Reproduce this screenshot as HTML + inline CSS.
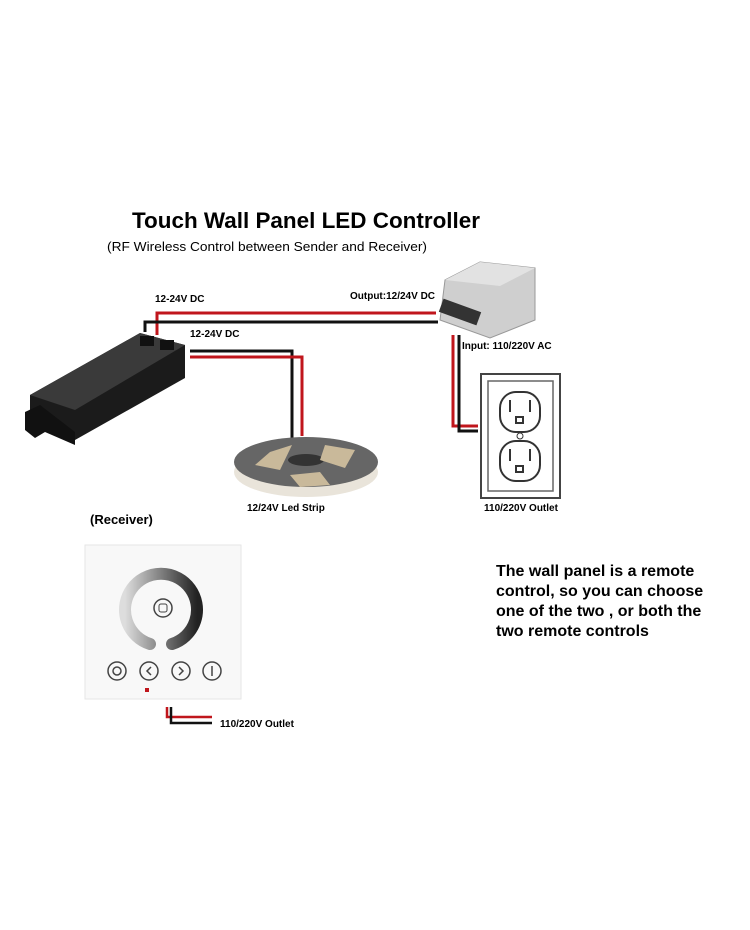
<!DOCTYPE html>
<html><head><meta charset="utf-8"><style>html,body{margin:0;padding:0;background:#fff}svg{display:block}</style></head>
<body>
<svg width="750" height="930" viewBox="0 0 750 930" xmlns="http://www.w3.org/2000/svg" font-family="Liberation Sans, sans-serif">
<rect width="750" height="930" fill="#fff"/>
<text x="132" y="228" font-size="22" font-weight="bold" textLength="348" lengthAdjust="spacingAndGlyphs">Touch Wall Panel LED Controller</text>
<text x="107" y="251" font-size="13" textLength="320" lengthAdjust="spacingAndGlyphs">(RF Wireless Control between Sender and Receiver)</text>

<polyline points="157,335 157,313 436,313" fill="none" stroke="#c0161c" stroke-width="3"/>
<polyline points="145,332 145,322 438,322" fill="none" stroke="#111" stroke-width="3"/>
<polyline points="190,351 292,351 292,439" fill="none" stroke="#111" stroke-width="3"/>
<polyline points="190,357 302,357 302,436" fill="none" stroke="#c0161c" stroke-width="3"/>
<polyline points="453,335 453,426 478,426" fill="none" stroke="#c0161c" stroke-width="3"/>
<polyline points="459,335 459,431 478,431" fill="none" stroke="#111" stroke-width="3"/>

<g font-size="10" font-weight="bold">
<text x="155" y="302">12-24V DC</text>
<text x="190" y="337">12-24V DC</text>
<text x="350" y="299">Output:12/24V DC</text>
<text x="462" y="349">Input: 110/220V AC</text>
<text x="247" y="511">12/24V Led Strip</text>
<text x="484" y="511">110/220V Outlet</text>
<text x="220" y="727">110/220V Outlet</text>
</g>

<polygon points="30,395 140,333 185,345 185,378 75,440 30,425" fill="#1b1b1b"/>
<polygon points="30,395 140,333 185,345 75,410" fill="#3a3a3a"/>
<polygon points="25,412 40,405 75,432 75,445 45,432 35,438 25,430" fill="#111"/>
<rect x="140" y="336" width="14" height="10" fill="#111"/>
<rect x="160" y="340" width="14" height="10" fill="#111"/>

<polygon points="445,280 480,262 535,268 535,320 490,338 440,320" fill="#cfcfcf" stroke="#999"/>
<polygon points="445,280 480,262 535,268 500,286" fill="#e2e2e2"/>
<rect x="440" y="305" width="40" height="14" fill="#333" transform="rotate(20 460 312)"/>

<rect x="481" y="374" width="79" height="124" fill="#fff" stroke="#444" stroke-width="2"/>
<rect x="488" y="381" width="65" height="110" fill="none" stroke="#666" stroke-width="1.5"/>
<rect x="500" y="392" width="40" height="40" rx="16" fill="none" stroke="#333" stroke-width="2"/>
<rect x="500" y="441" width="40" height="40" rx="16" fill="none" stroke="#333" stroke-width="2"/>
<circle cx="520" cy="436" r="3" fill="none" stroke="#333"/>
<g stroke="#333" stroke-width="2" fill="none"><line x1="510" y1="400" x2="510" y2="412"/><line x1="530" y1="400" x2="530" y2="412"/><rect x="516" y="417" width="7" height="6"/><line x1="510" y1="449" x2="510" y2="461"/><line x1="530" y1="449" x2="530" y2="461"/><rect x="516" y="466" width="7" height="6"/></g>

<ellipse cx="306" cy="472" rx="72" ry="25" fill="#e9e4da"/>
<ellipse cx="306" cy="462" rx="72" ry="25" fill="#666"/>
<ellipse cx="306" cy="460" rx="18" ry="6" fill="#333"/>
<path d="M270,452 L292,445 L280,470 L255,465 Z" fill="#c9b99a"/>
<path d="M325,445 L355,450 L345,468 L320,460 Z" fill="#c9b99a"/>
<path d="M290,475 L320,472 L330,485 L300,487 Z" fill="#c9b99a"/>

<text x="90" y="524" font-size="13" font-weight="bold">(Receiver)</text>
<rect x="85" y="545" width="156" height="154" fill="#f8f8f8" stroke="#e6e6e6"/>
<defs><linearGradient id="g" x1="0" y1="0" x2="1" y2="0"><stop offset="0" stop-color="#ddd"/><stop offset="1" stop-color="#222"/></linearGradient></defs>
<path d="M150,644 A36,36 0 1 1 172,644" fill="none" stroke="url(#g)" stroke-width="12" stroke-linecap="round"/>
<circle cx="163" cy="608" r="9" fill="none" stroke="#444" stroke-width="1.5"/>
<rect x="159" y="604" width="8" height="8" rx="2" fill="none" stroke="#444"/>
<g fill="none" stroke="#444" stroke-width="1.5">
<circle cx="117" cy="671" r="9"/><circle cx="117" cy="671" r="4"/>
<circle cx="149" cy="671" r="9"/><polyline points="151,667 147,671 151,675"/>
<circle cx="181" cy="671" r="9"/><polyline points="179,667 183,671 179,675"/>
<circle cx="212" cy="671" r="9"/><line x1="212" y1="666" x2="212" y2="676"/>
</g>
<rect x="145" y="688" width="4" height="4" fill="#c0161c"/>
<polyline points="167,707 167,717 212,717" fill="none" stroke="#c0161c" stroke-width="2.5"/>
<polyline points="171,707 171,723 212,723" fill="none" stroke="#111" stroke-width="2.5"/>

<g font-size="16" font-weight="bold">
<text x="496" y="576">The wall panel is a remote</text>
<text x="496" y="596">control, so you can choose</text>
<text x="496" y="616">one of the two , or both the</text>
<text x="496" y="636">two remote controls</text>
</g>
</svg>
</body></html>
